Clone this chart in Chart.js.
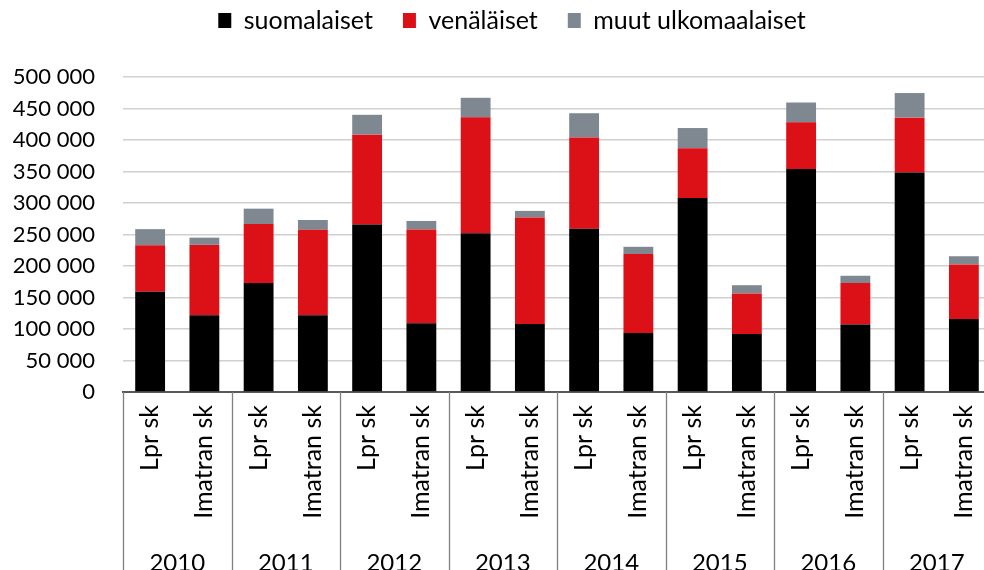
<!DOCTYPE html>
<html>
<head>
<meta charset="utf-8">
<script src="https://cdn.jsdelivr.net/npm/chart.js@4/dist/chart.umd.min.js"></script>
<style>
  html, body { margin: 0; padding: 0; background: #ffffff; overflow: hidden; }
  #wrap { width: 984px; height: 570px; overflow: hidden; }
  canvas { display: block; }
</style>
</head>
<body>
<div id="wrap"><canvas id="c" width="991" height="590"></canvas></div>
<script>
const years = ['2010', '2011', '2012', '2013', '2014', '2015', '2016', '2017'];
const units = ['Lpr sk', 'Imatran sk'];
const categories = years.flatMap(() => units);
const yTicks = [0, 50000, 100000, 150000, 200000, 250000, 300000, 350000, 400000, 450000, 500000];

const suomalaiset = [159000, 122000, 173000, 122000, 266000, 109000, 252000, 108000, 259000, 93500, 308000, 92000, 354000, 107000, 348500, 116000];
const venalaiset  = [74000, 111500, 93500, 135500, 142500, 149000, 184000, 169000, 145000, 125500, 79000, 64500, 74000, 66000, 87000, 86500];
const muut        = [25500, 11500, 24500, 15500, 31500, 13500, 31000, 10500, 38500, 11500, 32000, 13000, 31500, 11500, 39000, 13000];

const FONT = 'Lato';

function fmt(v) {
  return String(v).replace(/\B(?=(\d{3})+(?!\d))/g, ' ');
}

const separators = {
  id: 'separators',
  afterDraw(chart) {
    const x = chart.scales.x;
    const ctx = chart.ctx;
    const n = categories.length;
    const half = (x.right - x.left) / n / 2;
    ctx.save();
    ctx.strokeStyle = '#7f7f7f';
    ctx.lineWidth = 1.3;
    for (let g = 0; g <= years.length; g++) {
      let px;
      if (g < years.length) px = x.getPixelForValue(g * units.length) - half;
      else px = x.getPixelForValue(n - 1) + half - 1;
      px = Math.round(px) + 0.5;
      ctx.beginPath();
      ctx.moveTo(px, chart.chartArea.bottom);
      ctx.lineTo(px, chart.height);
      ctx.stroke();
    }
    ctx.restore();
  }
};

// Centre the legend over the same span as the reference (offset to the right)
const legendShift = {
  id: 'legendShift',
  afterLayout(chart) {
    if (chart.legend) chart.legend.left = 33;
  }
};

function noSidePadding(s) { s.paddingLeft = 0; s.paddingRight = 0; }

new Chart(document.getElementById('c'), {
  type: 'bar',
  data: {
    labels: categories,
    datasets: [
      { label: 'suomalaiset', data: suomalaiset, backgroundColor: '#000000' },
      { label: 'venäläiset', data: venalaiset, backgroundColor: '#dc1118' },
      { label: 'muut ulkomaalaiset', data: muut, backgroundColor: '#7f8891' }
    ]
  },
  options: {
    responsive: false,
    animation: false,
    layout: { padding: { top: -22, left: 0, right: 0, bottom: 0 } },
    datasets: { bar: { categoryPercentage: 1.0, barPercentage: 0.55, borderWidth: 0 } },
    plugins: {
      tooltip: { enabled: false },
      legend: {
        position: 'top',
        labels: {
          boxWidth: 13,
          boxHeight: 15,
          padding: 30,
          color: '#000000',
          font: { family: FONT, size: 25 }
        }
      },
      subtitle: {
        display: true,
        text: '',
        weight: 500,
        font: { size: 10 },
        padding: { top: 11, bottom: 11 }
      }
    },
    scales: {
      x: {
        stacked: true,
        offset: true,
        grid: { display: false, drawTicks: false },
        border: { display: true, color: '#595959', width: 2 },
        ticks: {
          color: '#000000',
          font: { family: FONT, size: 25 },
          minRotation: 90,
          maxRotation: 90,
          autoSkip: false,
          padding: 13
        },
        afterFit(s) { s.height = 140; noSidePadding(s); }
      },
      x2: {
        type: 'category',
        position: 'bottom',
        labels: years,
        offset: true,
        grid: { display: false, drawTicks: false },
        border: { display: false },
        ticks: {
          color: '#000000',
          font: { family: FONT, size: 24 },
          maxRotation: 0,
          autoSkip: false,
          padding: 17
        },
        afterFit(s) { s.height = 58; noSidePadding(s); }
      },
      y: {
        stacked: true,
        min: 0,
        max: 500000,
        afterBuildTicks(s) { s.ticks = yTicks.map(v => ({ value: v })); },
        grid: { color: '#d0d0d0', lineWidth: 1.6, drawTicks: false },
        border: { display: false },
        ticks: {
          color: '#000000',
          font: { family: FONT, size: 22 },
          padding: 28,
          callback: v => fmt(v)
        },
        afterFit(s) { s.width = 123; }
      }
    }
  },
  plugins: [separators, legendShift]
});
</script>
</body>
</html>
